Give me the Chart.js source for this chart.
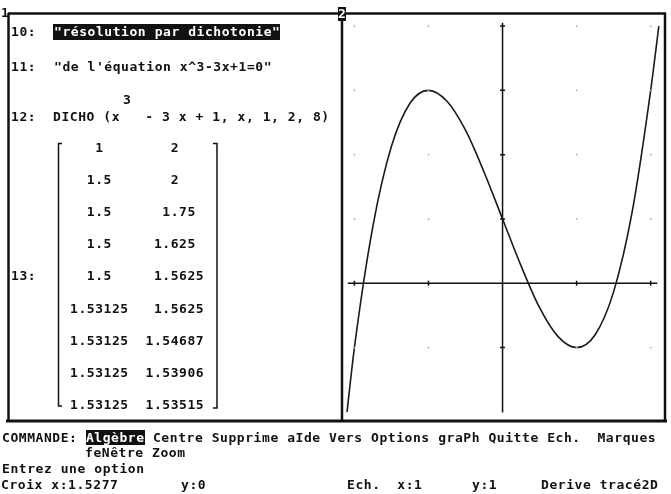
<!DOCTYPE html>
<html>
<head>
<meta charset="utf-8">
<script src="https://cdn.jsdelivr.net/npm/chart.js@4/dist/chart.umd.min.js"></script>
<style>
    body { margin: 0; background: #fff; }
    #ecran { position: relative; width: 671px; height: 494px; overflow: hidden; }
    #graphe { position: absolute; left: 0; top: 0; }
    .t {
        position: absolute;
        font-family: "DejaVu Sans Mono", monospace;
        font-weight: bold;
        font-size: 13px;
        line-height: 14px;
        letter-spacing: 0.56px;
        white-space: pre;
        color: #111;
    }
    .inv { background: #111; color: #fff; }
</style>
</head>
<body>
<div id="ecran">
    <canvas id="graphe" width="671" height="494"></canvas>
</div>

<script>
// Courbe : y = x^3 - 3x + 1
const courbeX = [-2.1, -2, -1.75, -1.5, -1.25, -1, -0.75, -0.5, -0.25, 0, 0.25, 0.5, 0.75, 1, 1.25, 1.5, 1.75, 2, 2.11];
const courbeY = [-2.0, -1.0, 0.89, 2.13, 2.8, 3.0, 2.83, 2.38, 1.73, 1.0, 0.27, -0.38, -0.83, -1.0, -0.8, -0.13, 1.11, 3.0, 4.0];

// Axes et graduations
const axeX = [-2.09, 2.09];
const axeY = [-2.01, 4.05];
const gradX = [-2, -1, 1, 2];
const gradY = [-1, 1, 2, 3, 4];
const grilleX = [-2, -1, 1, 2];
const grilleY = [-1, 1, 2, 3, 4];

// Intervalles de la dichotomie (ligne 13)
const bornesA = ['1', '1.5', '1.5', '1.5', '1.5', '1.53125', '1.53125', '1.53125', '1.53125'];
const bornesB = ['2', '2', '1.75', '1.625', '1.5625', '1.5625', '1.54687', '1.53906', '1.53515'];

const CELL = 8.39;
const ecran = document.getElementById('ecran');

// Ajoute une ligne de texte (cy = centre vertical)
function texte(str, x, cy, classe) {
    const el = document.createElement('div');
    el.className = 't' + (classe ? ' ' + classe : '');
    el.style.left = x + 'px';
    el.style.top = (cy - 7) + 'px';
    el.textContent = str;
    ecran.appendChild(el);
    return el;
}

// Fenêtre algèbre
texte('1', 1, 13);
texte('10:', 11, 31.7);
const titre = texte('"résolution par dichotonie"', 53, 31.3, 'inv');
titre.style.lineHeight = '16px';
titre.style.paddingLeft = '1px';
texte('11:', 11, 66.7);
texte('"de l\'équation x^3-3x+1=0"', 54, 66.7);
texte('3', 123, 100);
texte('12:', 11, 116.7);
texte('DICHO (x   - 3 x + 1, x, 1, 2, 8)', 53, 116.7);
texte('13:', 11, 275.7);

bornesA.forEach((v, i) => {
    const cy = 147.7 + 32.16 * i;
    texte(v, 70 + Math.ceil((7 - v.length) / 2) * CELL, cy);
    const w = bornesB[i];
    texte(w, 145.5 + Math.ceil((7 - w.length) / 2) * CELL, cy);
});

// Lignes de commande
const cmd = texte('', 2, 438.3);
cmd.append('COMMANDE: ');
const algebre = document.createElement('span');
algebre.className = 'inv';
algebre.textContent = 'Algèbre';
cmd.append(algebre);
cmd.append(' Centre Supprime aIde Vers Options graPh Quitte Ech.  Marques');
texte('feNêtre Zoom', 85, 453.3);
texte('Entrez une option', 2, 469.3);
texte('Croix x:1.5277', 1, 485);
texte('y:0', 181, 485);
texte('Ech.  x:1', 347, 485);
texte('y:1', 472, 485);
texte('Derive tracé2D', 541, 485);
texte('2', 338, 13.5, 'inv');

// Cadres des fenêtres
const cadres = {
    id: 'cadres',
    afterDatasetsDraw(chart) {
        const ctx = chart.ctx;
        ctx.save();
        ctx.strokeStyle = '#111';
        ctx.lineWidth = 2.5;
        ctx.beginPath();
        ctx.moveTo(8, 13.5); ctx.lineTo(666, 13.5);
        ctx.moveTo(8.5, 13); ctx.lineTo(8.5, 421);
        ctx.moveTo(342, 13); ctx.lineTo(342, 421);
        ctx.moveTo(665, 13); ctx.lineTo(665, 421);
        ctx.stroke();
        ctx.lineWidth = 3;
        ctx.beginPath();
        ctx.moveTo(6, 421); ctx.lineTo(667, 421);
        ctx.stroke();

        // crochets de la matrice
        ctx.lineWidth = 1.5;
        ctx.beginPath();
        ctx.moveTo(62, 143.5); ctx.lineTo(58.5, 143.5); ctx.lineTo(58.5, 406); ctx.lineTo(62, 406);
        ctx.moveTo(213, 143.5); ctx.lineTo(217, 143.5); ctx.lineTo(217, 408); ctx.lineTo(213, 408);
        ctx.stroke();
        ctx.restore();
    }
};

const points = (xs, ys) => xs.map((x, i) => ({ x: x, y: ys[i] }));

const grille = [];
grilleY.forEach(y => grilleX.forEach(x => grille.push({ x: x, y: y })));

new Chart(document.getElementById('graphe'), {
    type: 'scatter',
    data: {
        datasets: [
            {
                data: grille,
                pointRadius: 0.9,
                pointBackgroundColor: '#aaa',
                pointBorderWidth: 0
            },
            {
                data: points(axeX, [0, 0]),
                showLine: true,
                borderColor: '#111',
                borderWidth: 1.5,
                pointRadius: 0
            },
            {
                data: points([0, 0], axeY),
                showLine: true,
                borderColor: '#111',
                borderWidth: 1.5,
                pointRadius: 0
            },
            {
                data: gradX.map(x => ({ x: x, y: 0 })),
                pointStyle: 'line',
                rotation: 90,
                pointRadius: 2.5,
                pointBorderColor: '#111',
                pointBorderWidth: 1.5
            },
            {
                data: gradY.map(y => ({ x: 0, y: y })),
                pointStyle: 'line',
                pointRadius: 2.5,
                pointBorderColor: '#111',
                pointBorderWidth: 1.5
            },
            {
                data: points(courbeX, courbeY),
                showLine: true,
                borderColor: '#1a1a1a',
                borderWidth: 1.6,
                pointRadius: 0,
                cubicInterpolationMode: 'monotone'
            }
        ]
    },
    options: {
        responsive: false,
        animation: false,
        devicePixelRatio: 1,
        layout: { padding: { left: 339.6, right: 1.4, top: 13.2, bottom: 75.7 } },
        scales: {
            x: { type: 'linear', min: -2.2, max: 2.2, display: false },
            y: { type: 'linear', min: -2.1, max: 4.2, display: false }
        },
        plugins: {
            legend: { display: false },
            tooltip: { enabled: false }
        }
    },
    plugins: [cadres]
});
</script>
</body>
</html>
